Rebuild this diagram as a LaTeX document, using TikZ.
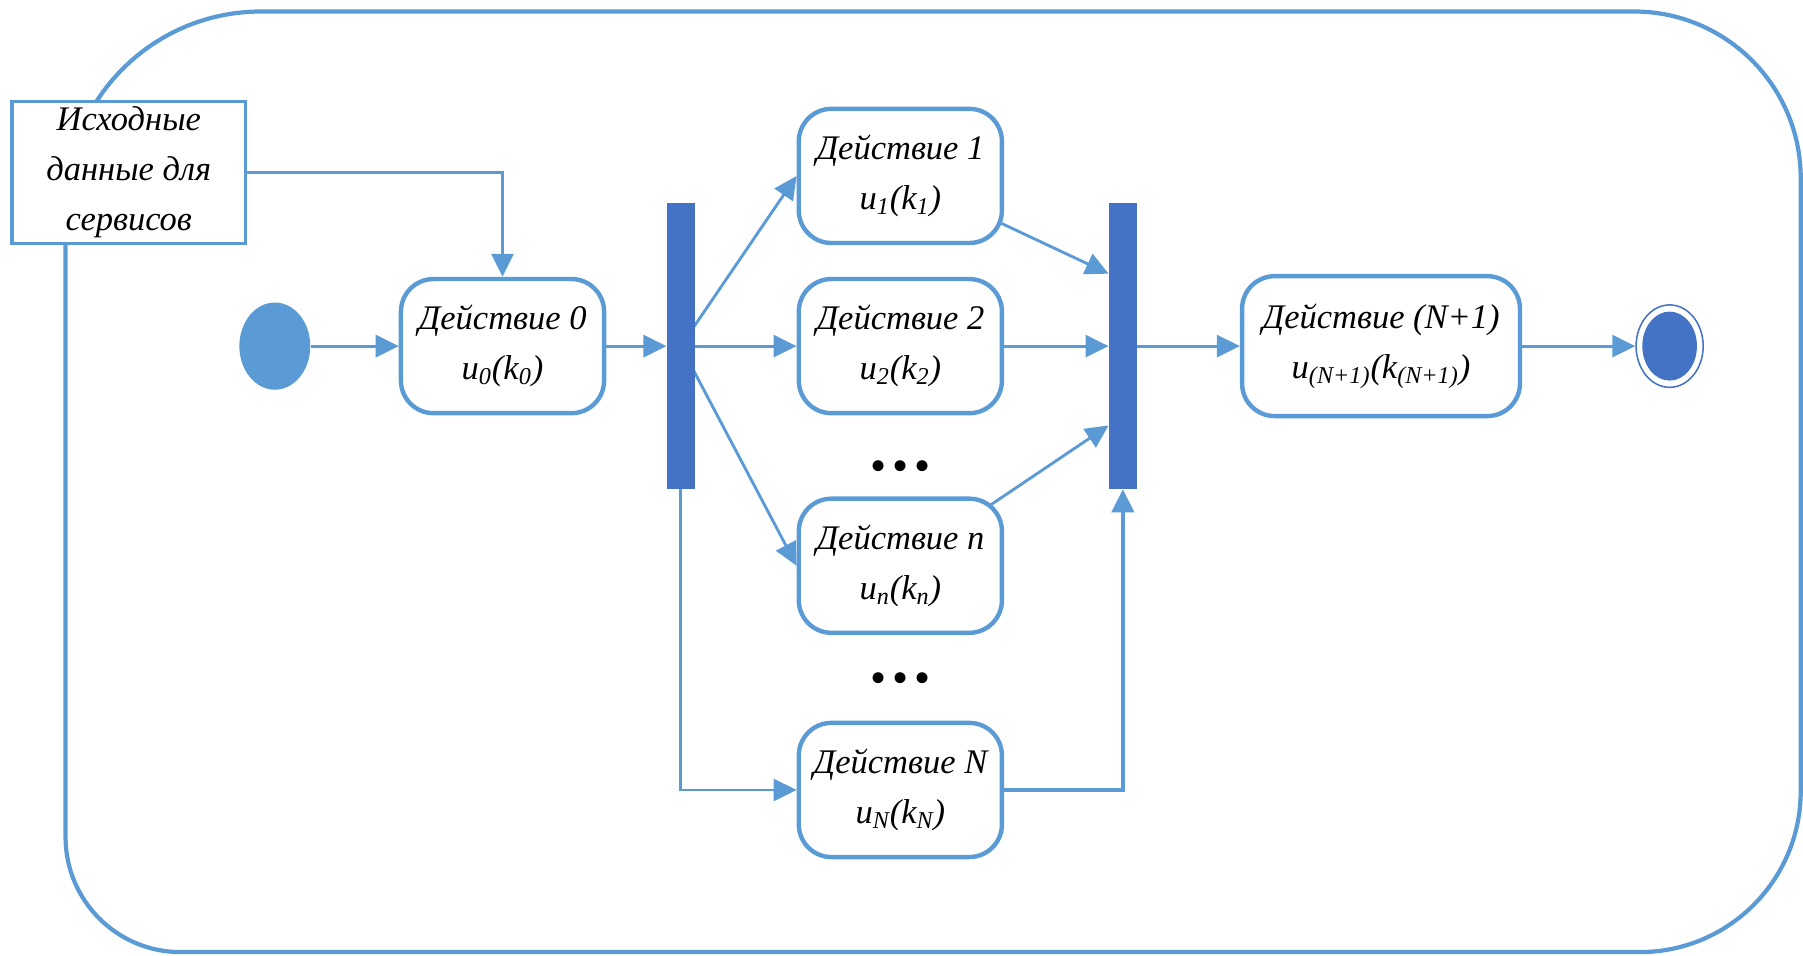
\documentclass[tikz,border=0pt]{standalone}
\usepackage{fontspec}
\setmainfont{Liberation Serif}
\usetikzlibrary{shapes.geometric,arrows.meta,calc}
\definecolor{lblue}{HTML}{5B9BD5}
\definecolor{dblue}{HTML}{4472C4}
\pgfdeclarelayer{back}
\pgfsetlayers{back,main}

\begin{document}
\begin{tikzpicture}[x=0.6pt,y=-0.6pt,
  font=\fontsize{18}{26}\selectfont\itshape,
  frame/.style={draw=lblue, line width=2.2pt},
  action/.style={draw=lblue, line width=2.3pt, rounded corners=17pt, fill=white,
    minimum width=106pt, minimum height=70pt, align=center, inner sep=2pt},
  source/.style={draw=lblue, line width=1.8pt, fill=white,
    minimum width=122pt, minimum height=74pt, align=center, inner sep=2pt},
  bar/.style={fill=dblue, minimum width=14.5pt, minimum height=149pt, inner sep=0pt},
  startdot/.style={ellipse, fill=lblue, minimum width=37pt, minimum height=45.5pt, inner sep=0pt},
  endring/.style={ellipse, draw=dblue, line width=0.8pt, fill=white, minimum width=35pt, minimum height=43pt, inner sep=0pt},
  enddot/.style={ellipse, fill=dblue, minimum width=28.5pt, minimum height=36pt, inner sep=0pt},
  arr/.style={draw=lblue, line width=1.5pt, -{Triangle[length=12pt,width=11.5pt]}},
  dotsrow/.style={inner sep=0pt, font=\fontsize{21}{21}\selectfont\bfseries},
]
\useasboundingbox (0,0) rectangle (1568,831);

% outer frame
\draw[frame] (227,10) -- (1421,10) arc[start angle=-90,end angle=0,radius=145]
  -- (1566,688) arc[start angle=0,end angle=90,radius=140]
  -- (157,828) arc[start angle=90,end angle=180,radius=100]
  -- (57,180) arc[start angle=180,end angle=270,radius=170] -- cycle;

% nodes
\node[source] (src) at (112,150) {Исходные\\данные для\\сервисов};
\node[startdot] (init) at (239,301) {};
\node[action] (a0) at (437,301) {Действие 0\\u\textsubscript{0}(k\textsubscript{0})};
\node[bar] (fork) at (592,301) {};
\node[action] (a1) at (783,153) {Действие 1\\u\textsubscript{1}(k\textsubscript{1})};
\node[action] (a2) at (783,301) {Действие 2\\u\textsubscript{2}(k\textsubscript{2})};
\node[dotsrow] (dots1) at (783,409) {\textbullet\hspace{4pt}\textbullet\hspace{4pt}\textbullet};
\node[action] (an) at (783,492) {Действие n\\u\textsubscript{n}(k\textsubscript{n})};
\node[dotsrow] (dots2) at (783,593) {\textbullet\hspace{4pt}\textbullet\hspace{4pt}\textbullet};
\node[action] (aN) at (783,687) {Действие N\\u\textsubscript{N}(k\textsubscript{N})};
\node[bar] (join) at (976.5,301) {};
\node[action, minimum width=145pt, minimum height=73pt] (aN1) at (1201,301)
  {Действие (N+1)\\u\textsubscript{(N+1)}(k\textsubscript{(N+1)})};
\node[endring] (final) at (1452,301) {};
\node[enddot] (finaldot) at (final.center) {};

% connectors
\draw[arr] (src.east) -| (a0.north);
\draw[arr] (init) -- (a0);
\draw[arr] (a0) -- (fork);
\draw[arr] (fork) -- (a2);
\draw[arr] (fork.south) |- (aN.west);
\draw[arr] (a2) -- (join);
\draw[arr, line width=2.2pt] (aN.east) -| (join.south);
\draw[arr] (join) -- (aN1);
\draw[arr] (aN1) -- (final);
\begin{pgfonlayer}{back}
  \draw[arr] (fork.center) -- (a1.west);
  \draw[arr] (fork.center) -- (an.west);
  \draw[arr] (a1.center) -- ([yshift=37.8pt]join.west);
  \draw[arr] (an.center) -- ([yshift=-41.4pt]join.west);
\end{pgfonlayer}
\end{tikzpicture}
\end{document}
